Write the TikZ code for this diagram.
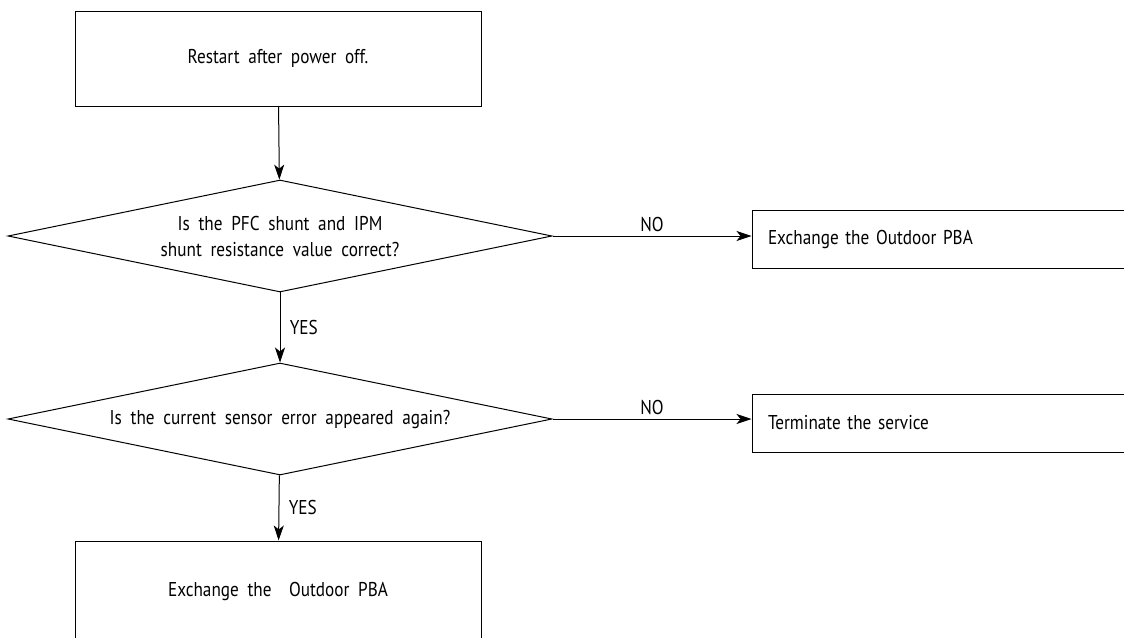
\documentclass[tikz,border=0pt]{standalone}
\usepackage{fontspec}
\setmainfont[FakeStretch=0.86,WordSpace=1.9]{PT Sans}
\usetikzlibrary{shapes.geometric,arrows.meta}

\begin{document}
\begin{tikzpicture}[x=1pt,y=-1pt,
  every node/.style={font=\fontsize{20}{26}\selectfont},
  box/.style={draw,rectangle,line width=1pt,inner sep=0pt},
  sidebox/.style={box,minimum height=58pt,text width=364pt,inner xsep=16pt,align=left},
  decision/.style={draw,diamond,line width=1pt,inner sep=0pt,aspect=4.9,minimum width=544pt,minimum height=112pt,align=center},
  flow/.style={line width=1pt,-{Stealth[length=15pt,width=10pt,inset=4pt]}}]
\useasboundingbox (0,0) rectangle (1124,637);
\clip (0,0) rectangle (1124,637);
\node[box,minimum width=406pt,minimum height=95pt] (restart) at (278,58.5) {Restart after power off.};
\node[decision] (shunt) at (280,236) {Is the PFC shunt and IPM\\shunt resistance value correct?};
\node[sidebox] (pba1) at (950,239) {Exchange the Outdoor PBA};
\node[decision] (sensor) at (280,419) {Is the current sensor error appeared again?};
\node[sidebox] (term) at (950,423) {Terminate the service};
\node[box,minimum width=406pt,minimum height=100pt] (pba2) at (278,591) {Exchange the \ Outdoor PBA};
\draw[flow] (restart) -- (shunt);
\draw[flow] (shunt.east) -- (shunt.east -| pba1.west) node[midway,above] {NO};
\draw[flow] (shunt) -- (sensor) node[midway,right,xshift=6pt] {YES};
\draw[flow] (sensor.east) -- (sensor.east -| term.west) node[midway,above] {NO};
\draw[flow] (sensor) -- (pba2) node[midway,right,xshift=6pt] {YES};
\end{tikzpicture}
\end{document}
